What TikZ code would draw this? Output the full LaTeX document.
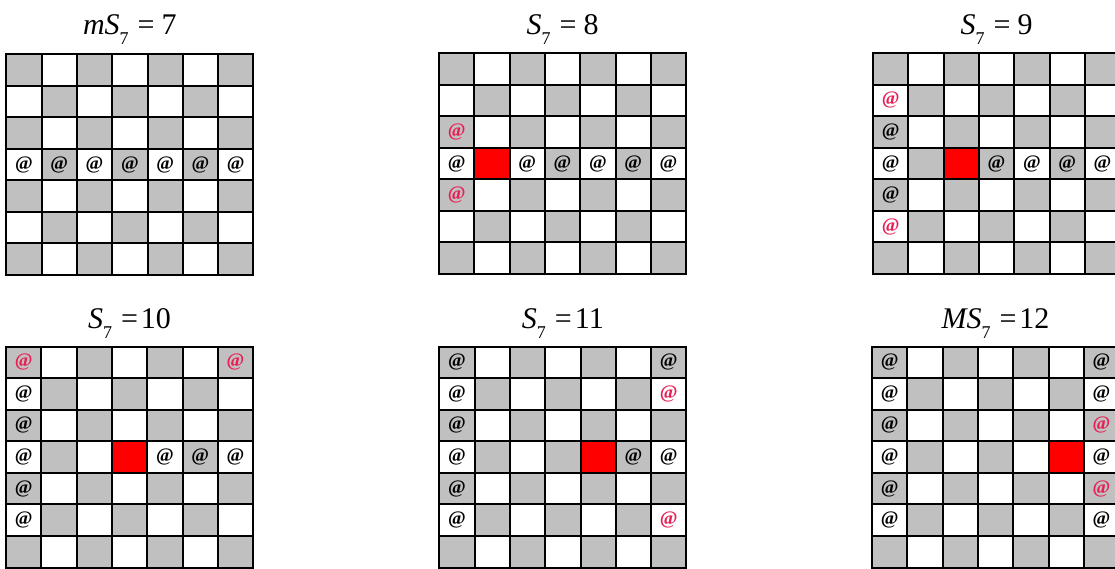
\documentclass[tikz,border=0pt]{standalone}
\usepackage{fontspec}
\setmainfont{Liberation Serif}
\definecolor{cellgray}{RGB}{192,192,192}
\definecolor{atred}{RGB}{232,30,84}
\definecolor{sqred}{RGB}{255,0,0}
\newcommand{\cw}{35.3}
\newcommand{\chh}{31.57}
\tikzset{
  gridline/.style={draw=black, line width=2pt, line cap=rect},
  atsym/.style={inner sep=0pt, font=\fontsize{19}{19}\selectfont\bfseries},
  title/.style={anchor=base, inner sep=0pt, font=\fontsize{30}{34}\selectfont}
}
% fills of a 7x7 checkerboard: #1 = x origin, #2 = y origin
\newcommand{\boardfill}[2]{%
  \foreach \r in {0,...,6}{\foreach \c in {0,...,6}{%
    \pgfmathtruncatemacro{\pty}{mod(\r+\c,2)}%
    \ifnum\pty=0 \fill[cellgray] ({#1+\c*\cw},{#2+\r*\chh}) rectangle ++(\cw,\chh);\fi
  }}%
}
\newcommand{\boardlines}[2]{%
  \foreach \i in {0,...,7}{%
    \draw[gridline] ({#1+\i*\cw},{#2}) -- ++(0,{7*\chh});
    \draw[gridline] ({#1},{#2+\i*\chh}) -- ++({7*\cw},0);
  }%
}
% @ symbol: name, ox, oy, col, row, colour
\newcommand{\putat}[6]{%
  \node[atsym,text=#6] (#1-#4-#5) at ({#2+(#4+0.5)*\cw},{#3+(#5+0.5)*\chh}) {@};}
\newcommand{\sub}{\raisebox{-10pt}{\fontsize{18}{18}\selectfont 7}}
\begin{document}
\begin{tikzpicture}[x=1pt,y=-1pt]
\clip (0,0) rectangle (1115,568);
\fill[white] (0,0) rectangle (1115,568);

% ---------- grid 1 : mS7 = 7
\def\ox{6.3}\def\oy{54}
\boardfill{\ox}{\oy}
\boardlines{\ox}{\oy}
\foreach \c in {0,...,6}{\putat{a}{\ox}{\oy}{\c}{3}{black}}
\node[title] (t1) at ({\ox+3.5*\cw},34) {\textit{mS}\sub\hspace{9pt}=\hspace{7pt}7};

% ---------- grid 2 : S7 = 8
\def\ox{439}\def\oy{53}
\boardfill{\ox}{\oy}
\fill[sqred] ({\ox+1*\cw},{\oy+3*\chh}) rectangle ++(\cw,\chh);
\boardlines{\ox}{\oy}
\putat{b}{\ox}{\oy}{0}{2}{atred}
\putat{b}{\ox}{\oy}{0}{3}{black}
\putat{b}{\ox}{\oy}{0}{4}{atred}
\foreach \c in {2,...,6}{\putat{b}{\ox}{\oy}{\c}{3}{black}}
\node[title] (t2) at ({\ox+3.5*\cw},34) {\textit{S}\sub\hspace{9pt}=\hspace{7pt}8};

% ---------- grid 3 : S7 = 9
\def\ox{873}\def\oy{53}
\boardfill{\ox}{\oy}
\fill[sqred] ({\ox+2*\cw},{\oy+3*\chh}) rectangle ++(\cw,\chh);
\boardlines{\ox}{\oy}
\putat{c}{\ox}{\oy}{0}{1}{atred}
\putat{c}{\ox}{\oy}{0}{2}{black}
\putat{c}{\ox}{\oy}{0}{3}{black}
\putat{c}{\ox}{\oy}{0}{4}{black}
\putat{c}{\ox}{\oy}{0}{5}{atred}
\foreach \c in {3,...,6}{\putat{c}{\ox}{\oy}{\c}{3}{black}}
\node[title] (t3) at ({\ox+3.5*\cw},34) {\textit{S}\sub\hspace{9pt}=\hspace{7pt}9};

% ---------- grid 4 : S7 = 10
\def\ox{6}\def\oy{346.5}
\boardfill{\ox}{\oy}
\fill[sqred] ({\ox+3*\cw},{\oy+3*\chh}) rectangle ++(\cw,\chh);
\boardlines{\ox}{\oy}
\putat{d}{\ox}{\oy}{0}{0}{atred}
\putat{d}{\ox}{\oy}{6}{0}{atred}
\foreach \r in {1,...,5}{\putat{d}{\ox}{\oy}{0}{\r}{black}}
\foreach \c in {4,...,6}{\putat{d}{\ox}{\oy}{\c}{3}{black}}
\node[title] (t4) at ({\ox+3.5*\cw},328) {\textit{S}\sub\hspace{9pt}=\hspace{3pt}10};

% ---------- grid 5 : S7 = 11
\def\ox{439.3}\def\oy{346.5}
\boardfill{\ox}{\oy}
\fill[sqred] ({\ox+4*\cw},{\oy+3*\chh}) rectangle ++(\cw,\chh);
\boardlines{\ox}{\oy}
\foreach \r in {0,...,5}{\putat{e}{\ox}{\oy}{0}{\r}{black}}
\putat{e}{\ox}{\oy}{6}{0}{black}
\putat{e}{\ox}{\oy}{6}{1}{atred}
\putat{e}{\ox}{\oy}{5}{3}{black}
\putat{e}{\ox}{\oy}{6}{3}{black}
\putat{e}{\ox}{\oy}{6}{5}{atred}
\node[title] (t5) at ({\ox+3.5*\cw},328) {\textit{S}\sub\hspace{9pt}=\hspace{3pt}11};

% ---------- grid 6 : MS7 = 12
\def\ox{872}\def\oy{346.5}
\boardfill{\ox}{\oy}
\fill[sqred] ({\ox+5*\cw},{\oy+3*\chh}) rectangle ++(\cw,\chh);
\boardlines{\ox}{\oy}
\foreach \r in {0,...,5}{\putat{f}{\ox}{\oy}{0}{\r}{black}}
\putat{f}{\ox}{\oy}{6}{0}{black}
\putat{f}{\ox}{\oy}{6}{1}{black}
\putat{f}{\ox}{\oy}{6}{2}{atred}
\putat{f}{\ox}{\oy}{6}{3}{black}
\putat{f}{\ox}{\oy}{6}{4}{atred}
\putat{f}{\ox}{\oy}{6}{5}{black}
\node[title] (t6) at ({\ox+3.5*\cw},328) {\textit{MS}\sub\hspace{9pt}=\hspace{3pt}12};
\end{tikzpicture}
\end{document}
